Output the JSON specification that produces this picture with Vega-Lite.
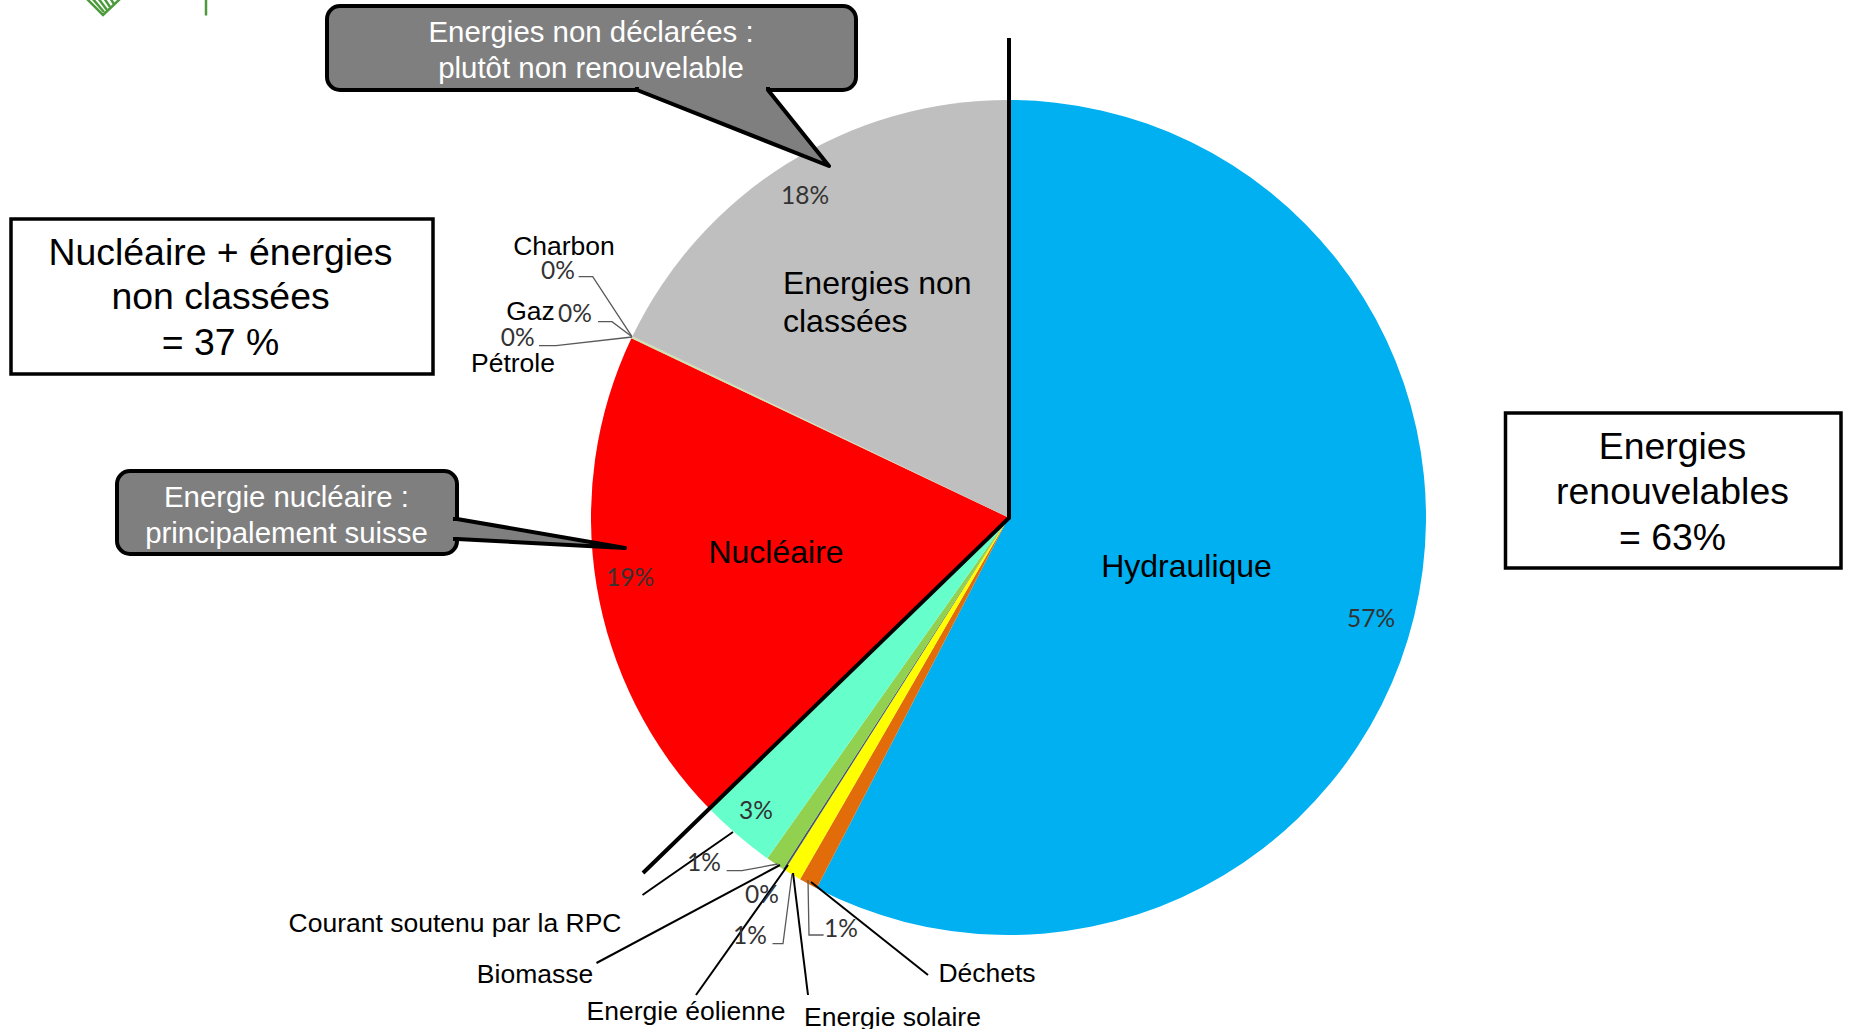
{
"$schema":"https://vega.github.io/schema/vega-lite/v6.json",
"autosize":{"type":"none"},
"width":1849,"height":1029,"padding":0,
"background":"white",
"view":{"stroke":null},
"datasets":{
"parts":[
{"source":"Hydraulique","share":57.6,"rank":1},
{"source":"Déchets","share":0.72,"rank":2},
{"source":"Energie solaire","share":0.68,"rank":3},
{"source":"Biomasse","share":0.08,"rank":4},
{"source":"Energie éolienne","share":0.72,"rank":5},
{"source":"Courant soutenu par la RPC","share":2.96,"rank":6},
{"source":"Nucléaire","share":19.3,"rank":7},
{"source":"Pétrole","share":0.03,"rank":8},
{"source":"Gaz","share":0.03,"rank":9},
{"source":"Charbon","share":0.03,"rank":10},
{"source":"Energies non classées","share":17.85,"rank":11}
],
"thick":[
{"k":"a","px":1009,"py":38},{"k":"a","px":1009,"py":518},{"k":"a","px":643,"py":873}
],
"leaders":[
{"k":"rpc","px":733,"py":832},{"k":"rpc","px":642.5,"py":895},
{"k":"bio","px":596.5,"py":963},{"k":"bio","px":780,"py":865},
{"k":"eol","px":696,"py":995},{"k":"eol","px":788,"py":865},
{"k":"sol","px":808,"py":995},{"k":"sol","px":793,"py":873},
{"k":"dec","px":928,"py":975},{"k":"dec","px":811,"py":882}
],
"thin":[
{"k":"p1","px":726.6,"py":870.7},{"k":"p1","px":742,"py":870.7},{"k":"p1","px":777.7,"py":864},
{"k":"p2","px":772.5,"py":943.7},{"k":"p2","px":783,"py":943.7},{"k":"p2","px":792,"py":874},
{"k":"p3","px":823.6,"py":935},{"k":"p3","px":809,"py":935},{"k":"p3","px":808,"py":880},
{"k":"p4","px":578.6,"py":276.7},{"k":"p4","px":592.7,"py":276.7},{"k":"p4","px":632,"py":336.7},
{"k":"p5","px":598,"py":321.7},{"k":"p5","px":612,"py":321.7},{"k":"p5","px":632,"py":336.7},
{"k":"p6","px":539,"py":345.7},{"k":"p6","px":556,"py":345.7},{"k":"p6","px":632,"py":337}
],
"boxes":[
{"px":11,"px2":433,"py":219,"py2":374},
{"px":1505.5,"px2":1841,"py":413,"py2":568}
],
"bubbles":[
{"px":327,"px2":856,"py":6,"py2":90},
{"px":117,"px2":457,"py":471,"py2":554}
],
"tails":[
{"k":"t1","px":637,"py":87},{"k":"t1","px":637,"py":90},{"k":"t1","px":829,"py":166},{"k":"t1","px":768,"py":90},{"k":"t1","px":768,"py":87},
{"k":"t2","px":453,"py":519},{"k":"t2","px":457,"py":519},{"k":"t2","px":625,"py":548},{"k":"t2","px":457,"py":539},{"k":"t2","px":453,"py":539}
],
"big":[
{"t":"Nucléaire + énergies","px":220.5,"py":252},
{"t":"non classées","px":220.5,"py":296},
{"t":"= 37 %","px":220.5,"py":342},
{"t":"Energies","px":1672.5,"py":446},
{"t":"renouvelables","px":1672.5,"py":490.5},
{"t":"= 63%","px":1672.5,"py":536.5}
],
"bubbleText":[
{"t":"Energies non déclarées :","px":591,"py":31},
{"t":"plutôt non renouvelable","px":591,"py":67},
{"t":"Energie nucléaire :","px":286.5,"py":496},
{"t":"principalement suisse","px":286.5,"py":532}
],
"inner":[
{"t":"Energies non","px":783,"py":283},
{"t":"classées","px":783,"py":321}
],
"innerC":[
{"t":"Nucléaire","px":776,"py":551},
{"t":"Hydraulique","px":1186.5,"py":565}
],
"names":[
{"t":"Charbon","px":564,"py":245},
{"t":"Gaz","px":530.5,"py":310},
{"t":"Pétrole","px":513,"py":362},
{"t":"Courant soutenu par la RPC","px":455,"py":922},
{"t":"Biomasse","px":535,"py":973},
{"t":"Energie éolienne","px":686,"py":1010},
{"t":"Energie solaire","px":892.5,"py":1016},
{"t":"Déchets","px":987,"py":971.5}
],
"pct":[
{"t":"18%","px":805,"py":195},
{"t":"0%","px":558,"py":270},
{"t":"0%","px":575,"py":312.5},
{"t":"0%","px":517.6,"py":337},
{"t":"19%","px":630,"py":576.5},
{"t":"57%","px":1371,"py":618},
{"t":"3%","px":756,"py":810},
{"t":"1%","px":704,"py":862},
{"t":"0%","px":762,"py":894},
{"t":"1%","px":750,"py":935},
{"t":"1%","px":841,"py":928}
],
"logo":[
{"k":"v","px":206,"py":-2},{"k":"v","px":206,"py":15.5},
{"k":"s","px":86,"py":-2},{"k":"s","px":103,"py":15},{"k":"s","px":121,"py":-2},
{"k":"h1","px":92,"py":-2},{"k":"h1","px":104,"py":12},
{"k":"h2","px":98,"py":-2},{"k":"h2","px":107,"py":10},
{"k":"h3","px":104,"py":-2},{"k":"h3","px":110,"py":7},
{"k":"h4","px":110,"py":-2},{"k":"h4","px":114,"py":4}
]
},
"encoding":{
"x":{"type":"quantitative","scale":{"domain":[0,1849],"nice":false,"zero":false},"axis":null},
"y":{"type":"quantitative","scale":{"domain":[1029,0],"nice":false,"zero":false},"axis":null}
},
"layer":[
{"data":{"name":"logo"},"mark":{"type":"line","stroke":"#4c9a3c","strokeWidth":2.5,"clip":false},
 "encoding":{"x":{"field":"px"},"y":{"field":"py"},"detail":{"field":"k"}}},
{"data":{"name":"parts"},
 "mark":{"type":"arc","outerRadius":417.5,"innerRadius":0},
 "encoding":{
  "x":{"datum":1008.5},"y":{"datum":517.5},
  "theta":{"field":"share","type":"quantitative","stack":true,"scale":{"domain":[0,100],"range":[0,6.283185]}},
  "order":{"field":"rank"},
  "color":{"field":"source","type":"nominal","legend":null,
   "scale":{"domain":["Hydraulique","Déchets","Energie solaire","Biomasse","Energie éolienne","Courant soutenu par la RPC","Nucléaire","Pétrole","Gaz","Charbon","Energies non classées"],
   "range":["#00b0f0","#e36c0a","#ffff00","#44546a","#92d050","#66ffcc","#ff0000","#c4d79b","#c4d79b","#c4d79b","#bfbfbf"]}}
 }},
{"data":{"name":"thick"},"mark":{"type":"line","stroke":"black","strokeWidth":4},
 "encoding":{"x":{"field":"px"},"y":{"field":"py"},"order":{"field":"py"},"detail":{"field":"k"}}},
{"data":{"name":"thin"},"mark":{"type":"line","stroke":"#595959","strokeWidth":1.3},
 "encoding":{"x":{"field":"px"},"y":{"field":"py"},"detail":{"field":"k"},"order":{"value":null}}},
{"data":{"name":"leaders"},"mark":{"type":"line","stroke":"black","strokeWidth":2},
 "encoding":{"x":{"field":"px"},"y":{"field":"py"},"detail":{"field":"k"}}},
{"data":{"name":"boxes"},"mark":{"type":"rect","fill":"white","stroke":"black","strokeWidth":3.5},
 "encoding":{"x":{"field":"px"},"x2":{"field":"px2"},"y":{"field":"py"},"y2":{"field":"py2"}}},
{"data":{"name":"bubbles"},"mark":{"type":"rect","fill":"#7f7f7f","stroke":"black","strokeWidth":4,"cornerRadius":13},
 "encoding":{"x":{"field":"px"},"x2":{"field":"px2"},"y":{"field":"py"},"y2":{"field":"py2"}}},
{"data":{"name":"tails"},"mark":{"type":"line","fill":"#7f7f7f","stroke":"black","strokeWidth":4,"strokeJoin":"round"},
 "encoding":{"x":{"field":"px"},"y":{"field":"py"},"detail":{"field":"k"},"order":{"value":null}}},
{"data":{"name":"big"},"mark":{"type":"text","font":"Liberation Sans","fontSize":37.4,"color":"black","align":"center","baseline":"middle","dy":2},
 "encoding":{"x":{"field":"px"},"y":{"field":"py"},"text":{"field":"t"}}},
{"data":{"name":"bubbleText"},"mark":{"type":"text","font":"Liberation Sans","fontSize":29.4,"color":"white","align":"center","baseline":"middle","dy":2},
 "encoding":{"x":{"field":"px"},"y":{"field":"py"},"text":{"field":"t"}}},
{"data":{"name":"inner"},"mark":{"type":"text","font":"Liberation Sans","fontSize":32,"color":"black","align":"left","baseline":"middle","dy":1},
 "encoding":{"x":{"field":"px"},"y":{"field":"py"},"text":{"field":"t"}}},
{"data":{"name":"innerC"},"mark":{"type":"text","font":"Liberation Sans","fontSize":32,"color":"black","align":"center","baseline":"middle","dy":1.5},
 "encoding":{"x":{"field":"px"},"y":{"field":"py"},"text":{"field":"t"}}},
{"data":{"name":"names"},"mark":{"type":"text","font":"Liberation Sans","fontSize":26.5,"color":"black","align":"center","baseline":"middle","dy":2},
 "encoding":{"x":{"field":"px"},"y":{"field":"py"},"text":{"field":"t"}}},
{"data":{"name":"pct"},"mark":{"type":"text","font":"Lato","fontSize":24.5,"color":"#333333","align":"center","baseline":"middle","dy":2},
 "encoding":{"x":{"field":"px"},"y":{"field":"py"},"text":{"field":"t"}}}
]
}
